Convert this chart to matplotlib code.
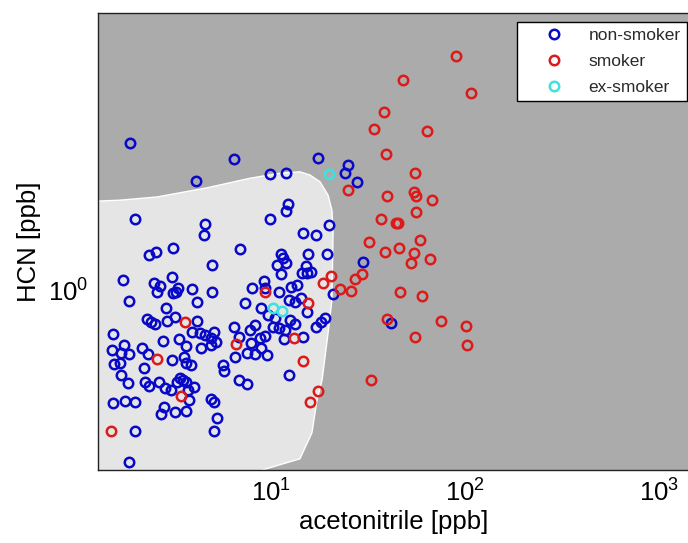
import numpy as np
import matplotlib.pyplot as plt
from matplotlib.ticker import LogLocator, LogFormatterSciNotation, NullLocator

plt.rcParams['font.family'] = ['Liberation Sans', 'DejaVu Sans']
plt.rcParams['mathtext.default'] = 'regular'

# values, kept as log10 of ppb
nonsmoker_acn_log = [
    0.273, 0.613, 0.809, 0.995, 1.077, 1.242, 1.397, 1.381, 1.443, 0.299,
    0.660, 0.655, 0.371, 0.407, 0.495, 0.696, 0.237, 0.397, 0.428, 0.490,
    0.412, 0.521, 0.495, 0.510, 0.593, 0.696, 1.088, 1.077, 0.995, 1.165,
    1.232, 1.299, 0.840, 1.052, 1.062, 1.031, 1.077, 1.052, 1.191, 1.289,
    1.180, 1.160, 1.186, 1.206, 0.964, 0.902, 0.969, 1.041, 1.103, 1.134,
    1.320, 1.474, 1.619, 0.268, 0.459, 0.619, 0.361, 0.381, 0.402, 0.464,
    0.505, 0.619, 0.593, 0.634, 0.660, 0.706, 0.691, 0.716, 0.185, 0.443,
    0.526, 0.562, 0.639, 0.691, 0.180, 0.242, 0.227, 0.268, 0.335, 0.366,
    0.191, 0.222, 0.227, 0.263, 0.345, 0.490, 0.552, 0.562, 0.588, 0.350,
    0.371, 0.423, 0.454, 0.484, 0.515, 0.531, 0.546, 0.562, 0.603, 0.572,
    0.185, 0.247, 0.299, 0.448, 0.433, 0.505, 0.562, 0.577, 0.691, 0.706,
    0.722, 0.706, 0.299, 0.268, 0.866, 0.948, 0.985, 1.021, 1.093, 1.124,
    1.155, 1.186, 0.809, 0.892, 0.918, 1.010, 1.041, 1.072, 1.124, 1.165,
    1.067, 1.232, 1.258, 1.278, 0.835, 0.897, 0.943, 0.969, 0.814, 0.876,
    0.918, 0.979, 0.948, 0.753, 0.758, 0.835, 0.876, 1.093, 1.098]
nonsmoker_hcn_log = [
    0.323, 0.240, 0.288, 0.255, 0.257, 0.290, 0.275, 0.257, 0.238, 0.157,
    0.146, 0.122, 0.078, 0.085, 0.093, 0.056, 0.023, 0.017, 0.010, 0.030,
    -0.003, 0.006, -0.005, -0.003, 0.004, -0.003, 0.190, 0.174, 0.157, 0.126,
    0.122, 0.144, 0.091, 0.080, 0.071, 0.056, 0.060, 0.036, 0.080, 0.080,
    0.054, 0.039, 0.039, 0.041, 0.021, 0.006, 0.006, -0.003, 0.008, 0.012,
    -0.007, 0.063, -0.071, -0.023, -0.038, -0.025, -0.062, -0.069, -0.073, -0.067,
    -0.058, -0.067, -0.091, -0.093, -0.097, -0.091, -0.104, -0.112, -0.095, -0.110,
    -0.106, -0.121, -0.126, -0.119, -0.130, -0.119, -0.137, -0.139, -0.126, -0.139,
    -0.161, -0.158, -0.185, -0.202, -0.169, -0.152, -0.145, -0.158, -0.163, -0.200,
    -0.209, -0.200, -0.213, -0.218, -0.200, -0.191, -0.196, -0.200, -0.211, -0.218,
    -0.246, -0.242, -0.244, -0.255, -0.270, -0.266, -0.263, -0.239, -0.237, -0.244,
    -0.279, -0.307, -0.307, -0.375, -0.027, -0.038, -0.053, -0.060, -0.021, -0.025,
    -0.016, -0.047, -0.080, -0.086, -0.075, -0.080, -0.082, -0.086, -0.073, -0.101,
    -0.106, -0.080, -0.069, -0.060, -0.101, -0.115, -0.104, -0.099, -0.145, -0.137,
    -0.139, -0.141, -0.126, -0.163, -0.176, -0.196, -0.204, -0.185, -0.064]

smoker_acn_log = [
    1.954, 1.680, 2.031, 1.583, 1.531, 1.804, 1.593, 1.742, 1.397, 1.598,
    1.737, 1.747, 1.830, 1.747, 1.567, 1.644, 1.655, 1.505, 1.768, 1.588,
    1.660, 1.737, 1.722, 1.820, 1.309, 1.433, 1.469, 1.356, 1.412, 1.268,
    1.665, 1.778, 1.598, 1.876, 2.005, 1.742, 2.010, 1.516, 1.191, 1.165,
    1.242, 1.201, 0.969, 1.119, 0.820, 0.557, 0.412, 0.536, 0.175]
smoker_hcn_log = [
    0.513, 0.461, 0.432, 0.391, 0.354, 0.349, 0.299, 0.257, 0.220, 0.207,
    0.216, 0.207, 0.198, 0.172, 0.157, 0.148, 0.148, 0.106, 0.111, 0.085,
    0.093, 0.082, 0.060, 0.069, 0.032, 0.025, 0.036, 0.004, -0.001, 0.017,
    -0.003, -0.012, -0.062, -0.067, -0.077, -0.101, -0.119, -0.196, -0.027, -0.154,
    -0.220, -0.244, -0.003, -0.104, -0.117, -0.069, -0.150, -0.231, -0.307]

exsmoker_acn_log = [1.299, 1.010, 1.057]
exsmoker_hcn_log = [0.255, -0.038, -0.045]

# outline of the light (non-smoker) decision region
region_acn_log = [0.0, 0.94, 0.954, 1.149, 1.211, 1.237, 1.263, 1.294, 1.314, 1.320,
                  1.314, 1.294, 1.253, 1.201, 1.149, 1.046, 0.892, 0.670, 0.412, 0.222, 0.0]
region_hcn_log = [-0.45, -0.45, -0.3925, -0.368, -0.311, -0.239, -0.196, -0.093, -0.020, 0.133,
                  0.176, 0.209, 0.238, 0.253, 0.260, 0.257, 0.246, 0.225, 0.205, 0.198, 0.194]

x_limits = (10 ** 0.108, 10 ** 3.158)
y_limits = (10 ** -0.3925, 10 ** 0.6075)

fig = plt.figure(figsize=(6.88, 5.43), dpi=100)
ax = fig.add_axes([0.1424, 0.1344, 0.86, 0.8416])
ax.set_xscale('log')
ax.set_yscale('log')
ax.set_facecolor('#ababab')

ax.fill(10 ** np.array(region_acn_log), 10 ** np.array(region_hcn_log),
        facecolor='#e5e5e5', edgecolor='white', lw=1.0, zorder=1)

style = dict(ls='none', marker='o', mfc='none', ms=6.8, mew=1.8, zorder=3)
h1, = ax.plot(10 ** np.array(nonsmoker_acn_log), 10 ** np.array(nonsmoker_hcn_log),
              mec='#0808c8', label='non-smoker', **style)
h2, = ax.plot(10 ** np.array(smoker_acn_log), 10 ** np.array(smoker_hcn_log),
              mec='#dc1a1a', label='smoker', **style)
h3, = ax.plot(10 ** np.array(exsmoker_acn_log), 10 ** np.array(exsmoker_hcn_log),
              mec='#3ee0e0', label='ex-smoker', **style)

ax.set_xlim(x_limits)
ax.set_ylim(y_limits)

ax.xaxis.set_major_locator(LogLocator(base=10))
ax.yaxis.set_major_locator(LogLocator(base=10))
ax.xaxis.set_major_formatter(LogFormatterSciNotation())
ax.yaxis.set_major_formatter(LogFormatterSciNotation())
ax.xaxis.set_minor_locator(NullLocator())
ax.yaxis.set_minor_locator(NullLocator())
ax.tick_params(length=0, labelsize=18.5, pad=7)

for s in ax.spines.values():
    s.set_color('#222222')
    s.set_linewidth(1.0)

ax.set_xlabel('acetonitrile [ppb]', fontsize=18.5, labelpad=2)
ax.set_ylabel('HCN [ppb]', fontsize=18.5, labelpad=5)

leg = ax.legend(handles=[h1, h2, h3], loc='upper right', bbox_to_anchor=(0.995, 0.980),
                fontsize=12.5, frameon=True, fancybox=False, edgecolor='black', framealpha=1,
                handlelength=3.56, handletextpad=0.2, borderpad=0.35, labelspacing=0.62,
                borderaxespad=0)
leg.get_frame().set_linewidth(1.0)
for t in leg.get_texts():
    t.set_color('#2a2a2a')

fig.savefig('out.png', dpi=100)
